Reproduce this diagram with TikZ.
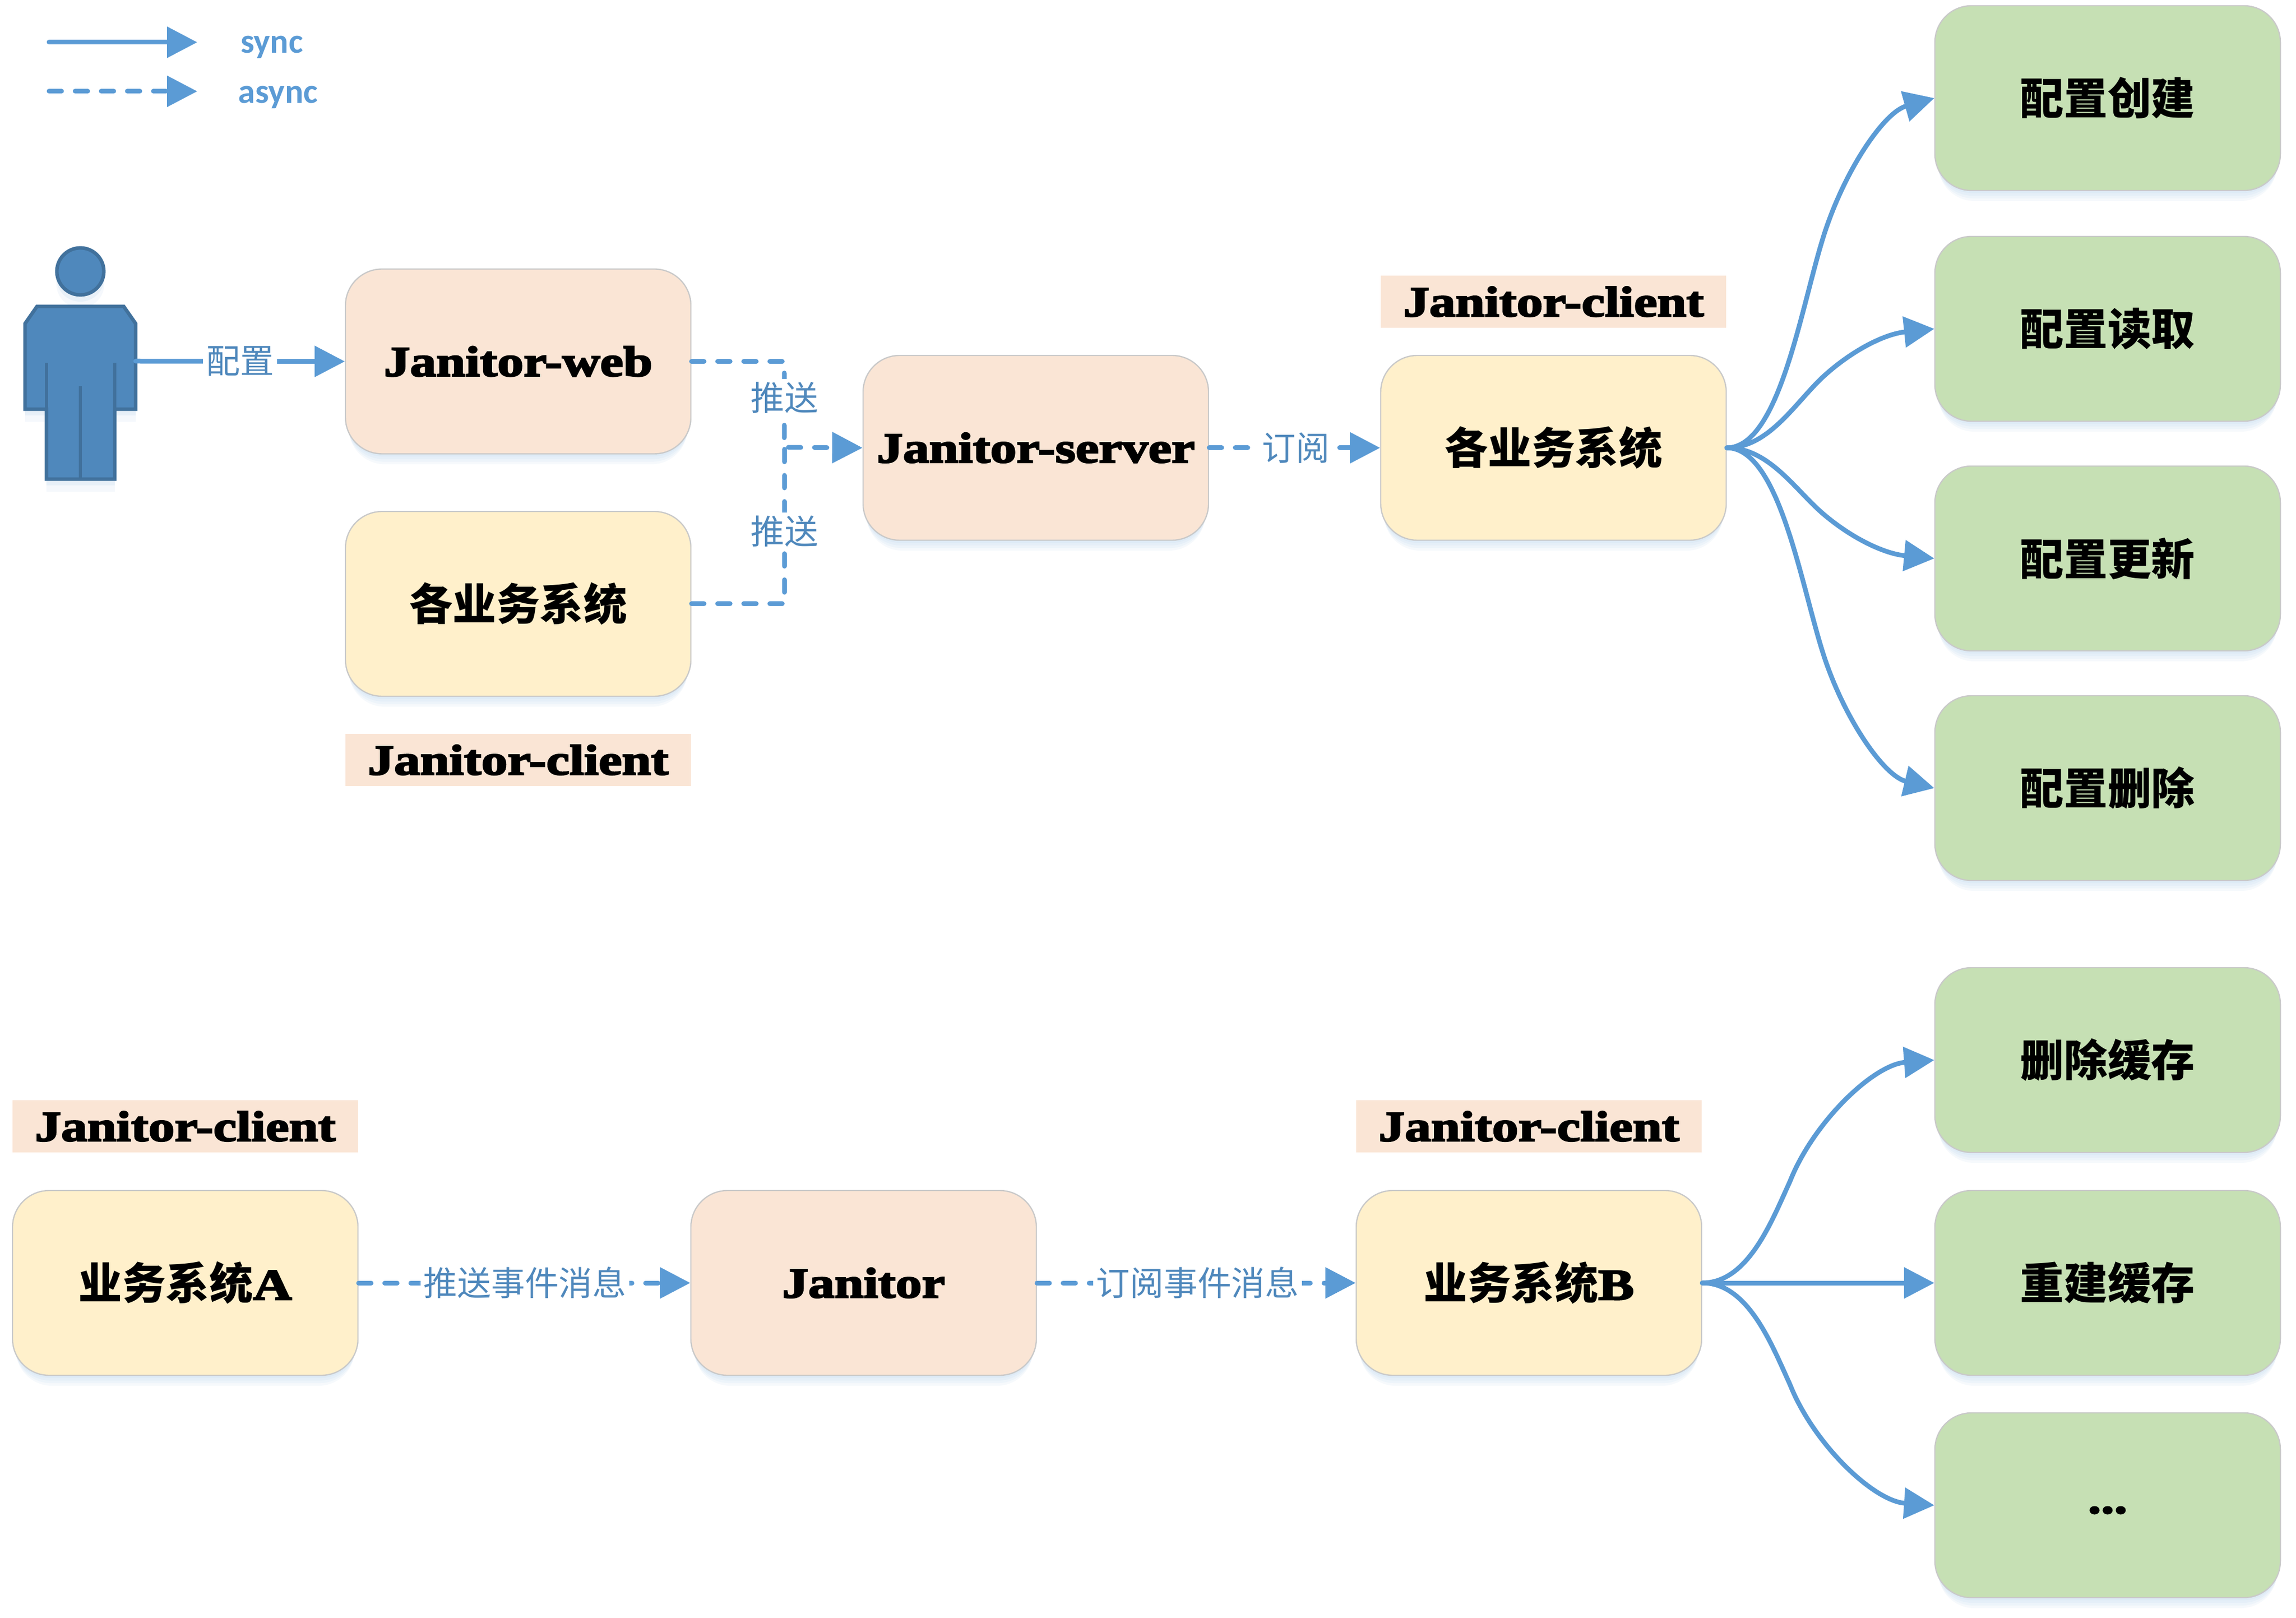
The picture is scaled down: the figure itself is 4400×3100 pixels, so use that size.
\documentclass[tikz,border=0pt]{standalone}
\usepackage{fontspec}
\usetikzlibrary{arrows.meta,shadows,calc}
\setmainfont{Liberation Serif}
\newfontfamily\fat[FakeStretch=1.23,BoldFeatures={FakeBold=3.5}]{Liberation Serif}
\newfontfamily\cjk{Noto Sans CJK SC}
\newfontfamily\calib{Carlito}
\definecolor{cline}{HTML}{5B9BD5}
\definecolor{clabel}{HTML}{4F88BC}
\definecolor{cpeach}{HTML}{FAE5D5}
\definecolor{cyell}{HTML}{FFF0CB}
\definecolor{cgreen}{HTML}{C6E0B4}
\definecolor{cedge}{HTML}{C9C9C9}
\definecolor{cshadow}{HTML}{9DC3E6}
\definecolor{cbody}{HTML}{4F88BC}
\definecolor{cbodyd}{HTML}{41719C}
\tikzset{
  softshadow/.style={
    general shadow={fill=cshadow,opacity=.09,shadow xshift=0pt,shadow yshift=-1.5pt,shadow scale=.995},
    general shadow={fill=cshadow,opacity=.09,shadow xshift=0pt,shadow yshift=-3pt,shadow scale=.99},
    general shadow={fill=cshadow,opacity=.09,shadow xshift=0pt,shadow yshift=-4.5pt,shadow scale=.985},
    general shadow={fill=cshadow,opacity=.09,shadow xshift=0pt,shadow yshift=-6pt,shadow scale=.98}},
  boxbase/.style={draw=cedge,line width=.6pt,rounded corners=17.5pt,minimum width=165.5pt,minimum height=88.5pt,inner sep=0pt,align=center,softshadow},
  peachbox/.style={boxbase,fill=cpeach},
  yellbox/.style={boxbase,fill=cyell},
  greenbox/.style={boxbase,fill=cgreen},
  tagbox/.style={fill=cpeach,minimum width=165.5pt,minimum height=25pt,inner sep=0pt},
  fattext/.style={font=\fat\bfseries\fontsize{20.4}{24}\selectfont},
  cjktext/.style={font=\cjk\bfseries\fontsize{20.9}{24}\selectfont},
  lbl/.style={font=\cjk\fontsize{16.2}{20}\selectfont,text=clabel,fill=white,inner sep=1.5pt},
  linebase/.style={draw=cline,line width=2.25pt,line cap=round},
  sync/.style={linebase,-{Triangle[length=14.5pt,width=14.5pt,fill=cline]}},
  async/.style={sync,dash pattern=on 6pt off 6.5pt},
  asyncplain/.style={linebase,dash pattern=on 6pt off 6.5pt},
  legendtext/.style={font=\calib\bfseries\fontsize{16.5}{20}\selectfont,text=cline},
  bodyline/.style={draw=cbodyd,line width=1.7pt},
}
\begin{document}
\begin{tikzpicture}[x=0.25pt,y=-0.25pt]
\useasboundingbox (0,0) rectangle (4400,3100);
\fill[white] (0,0) rectangle (4400,3100);

% legend
\coordinate (ls1) at (94,81); \coordinate (le1) at (378,81);
\coordinate (ls2) at (94,175); \coordinate (le2) at (378,175);
\draw[sync] (ls1) -- (le1);
\draw[async] (ls2) -- (le2);
\node[legendtext] (tsync) at (521,90) {sync};
\node[legendtext] (tasync) at (533,186) {async};

% person
\foreach \s/\o in {3/.14,6/.10}{
  \fill[cshadow,opacity=\o,yshift=-\s pt] (154,520) circle[radius=46];
  \fill[cshadow,opacity=\o,yshift=-\s pt] (69,587) -- (239,587) -- (260,620) -- (260,784) -- (220,784) -- (220,918) -- (89,918) -- (89,784) -- (48,784) -- (48,620) -- cycle;
}
\filldraw[fill=cbody,bodyline] (154,520) circle[radius=45];
\filldraw[fill=cbody,bodyline] (71,587) -- (237,587) -- (260,620) -- (260,784) -- (220,784) -- (220,918) -- (89,918) -- (89,784) -- (48,784) -- (48,620) -- cycle;
\draw[bodyline] (89,695) -- (89,918);
\draw[bodyline] (220,695) -- (220,918);
\draw[bodyline] (154,740) -- (154,918);
\coordinate (person) at (260,692);

% upper flow
\node[peachbox,fattext] (web) at (993,692.5) {Janitor-web};
\node[yellbox,cjktext] (biz1) at (993,1157) {各业务系统};
\node[tagbox,fattext] (tag1) at (993,1456) {Janitor-client};
\node[peachbox,fattext] (server) at (1985,858) {Janitor-server};
\node[yellbox,cjktext] (biz2) at (2977,858) {各业务系统};
\node[tagbox,fattext] (tag2) at (2977,578) {Janitor-client};

\node[greenbox,cjktext] (g1) at (4039,188) {配置创建};
\node[greenbox,cjktext] (g2) at (4039,630) {配置读取};
\node[greenbox,cjktext] (g3) at (4039,1070) {配置更新};
\node[greenbox,cjktext] (g4) at (4039,1510) {配置删除};

\coordinate (jx) at (1503,857);
\draw[sync] (person) -- (web.west);
\node[lbl] (lcfg) at (460,692) {配置};
\draw[async] (web.east) -| (jx) -- (server.west);
\draw[asyncplain] (biz1.east) -| (jx);
\node[lbl] (lp1) at (1503,762) {推送};
\node[lbl] (lp2) at (1503,1018) {推送};
\draw[async] (server.east) -- (biz2.west);
\node[lbl] (lsub) at (2483,858) {订阅};

\draw[sync] (biz2.east) .. controls (3412,858) and (3453,577) .. (3498,442) .. controls (3538,322) and (3611,215) .. (g1.west);
\draw[sync] (biz2.east) .. controls (3392,858) and (3442,768) .. (3498,718) .. controls (3552,670) and (3612,640) .. (g2.west);
\draw[sync] (biz2.east) .. controls (3392,858) and (3442,942) .. (3498,988) .. controls (3552,1033) and (3612,1061) .. (g3.west);
\draw[sync] (biz2.east) .. controls (3412,858) and (3453,1133) .. (3498,1265) .. controls (3538,1382) and (3611,1487) .. (g4.west);

% lower flow
\node[yellbox,cjktext] (a) at (355,2458) {业务系统{\fat\bfseries A}};
\node[tagbox,fattext] (tag3) at (355,2158) {Janitor-client};
\node[peachbox,fattext] (jan) at (1655,2458) {Janitor};
\node[yellbox,cjktext] (b) at (2930,2458) {业务系统{\fat\bfseries B}};
\node[tagbox,fattext] (tag4) at (2930,2158) {Janitor-client};

\node[greenbox,cjktext] (h1) at (4039,2031) {删除缓存};
\node[greenbox,cjktext] (h2) at (4039,2458) {重建缓存};
\node[greenbox,fattext] (h3) at (4039,2884) {\raisebox{-3.75pt}[0pt][0pt]{...}};

\draw[async] (a.east) -- (jan.west);
\node[lbl] (lpe) at (1006,2458) {推送事件消息};
\draw[async] (jan.east) -- (b.west);
\node[lbl] (lse) at (2295,2458) {订阅事件消息};

\draw[sync] (b.east) .. controls (3350,2458) and (3395,2340) .. (3430,2264) .. controls (3475,2150) and (3590,2040) .. (h1.west);
\draw[sync] (b.east) -- (h2.west);
\draw[sync] (b.east) .. controls (3350,2458) and (3395,2576) .. (3430,2652) .. controls (3475,2766) and (3590,2876) .. (h3.west);
\end{tikzpicture}
\end{document}
